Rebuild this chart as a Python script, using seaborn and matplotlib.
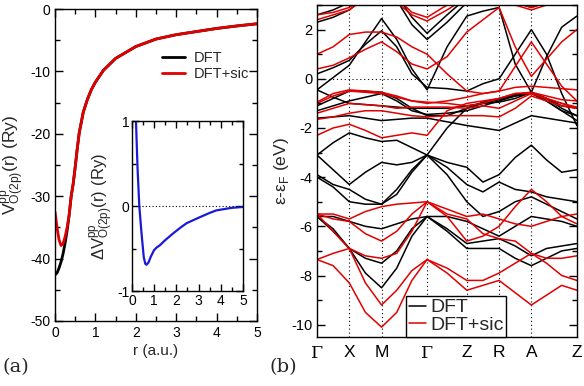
import pandas as pd
import seaborn as sns
import matplotlib
matplotlib.use("Agg")
import matplotlib.pyplot as plt
from matplotlib.lines import Line2D
from matplotlib.ticker import MultipleLocator

# ---------- panel (a): O(2p) pseudopotential ----------
r_main = [0.0, 0.05, 0.1, 0.15, 0.2, 0.25, 0.3, 0.35, 0.4, 0.45, 0.5, 0.55, 0.6,
          0.7, 0.8, 0.9, 1.0, 1.2, 1.5, 2.0, 2.5, 3.0, 3.5, 4.0, 4.5, 5.0]
v_dft = [-42.6, -42.3, -41.5, -40.5, -39.2, -37.5, -35.5, -33.0, -30.0, -28.0, -25.3,
         -22.4, -19.8, -16.5, -14.5, -12.9, -11.7, -9.8, -7.9, -6.0, -4.8, -4.1,
         -3.6, -3.1, -2.7, -2.35]
v_sic = [-32.5, -35.0, -37.0, -37.9, -37.6, -36.5, -35.0, -33.0, -30.0, -28.0, -25.3,
         -22.4, -19.8, -16.5, -14.5, -12.9, -11.7, -9.8, -7.9, -6.0, -4.8, -4.1,
         -3.6, -3.1, -2.7, -2.35]

r_inset = [0.12, 0.18, 0.25, 0.33, 0.43, 0.53, 0.6, 0.66, 0.75, 0.84, 0.99, 1.1,
           1.26, 1.5, 1.86, 2.2, 2.47, 3.06, 3.5, 3.8, 4.5, 5.0]
dv_inset = [1.6, 1.0, 0.45, 0.0, -0.32, -0.6, -0.68, -0.69, -0.66, -0.6, -0.52, -0.49,
            -0.46, -0.4, -0.32, -0.25, -0.2, -0.13, -0.08, -0.05, -0.02, -0.01]

# ---------- panel (b): band structure ----------
kpath_labels = ["Γ", "X", "M", "Γ", "Z", "R", "A", "Z"]
kpath_ticks = [0.0, 1.0, 2.0, 3.41, 4.64, 5.64, 6.64, 8.05]
k_points = [0.0, 0.5, 1.0, 1.5, 2.0, 2.47, 2.94, 3.41, 4.03, 4.64, 5.14, 5.64,
            6.14, 6.64, 7.11, 7.58, 8.05]

bands_dft = [
    [-5.6, -6.2, -6.9, -7.9, -8.5, -7.7, -6.4, -5.6, -6.2, -6.9, -6.9, -6.9, -7.3, -7.6, -7.3, -7.0, -6.9],
    [-5.6, -6.1, -6.9, -7.3, -7.5, -7.0, -6.1, -5.6, -6.1, -6.7, -6.6, -6.5, -6.8, -7.2, -6.9, -6.8, -6.7],
    [-5.6, -5.6, -5.8, -6.0, -6.1, -5.9, -5.7, -5.6, -5.6, -5.8, -6.1, -6.4, -6.0, -5.6, -5.7, -5.8, -6.0],
    [-4.0, -4.4, -5.0, -5.1, -5.1, -4.7, -3.8, -3.1, -3.9, -5.0, -5.6, -5.4, -5.0, -4.8, -5.1, -5.4, -5.7],
    [-3.9, -4.3, -4.5, -4.9, -5.1, -4.5, -3.7, -3.1, -3.6, -4.3, -4.6, -4.2, -4.5, -4.6, -4.8, -4.9, -5.0],
    [-3.1, -3.7, -4.3, -3.8, -3.4, -3.5, -3.4, -3.1, -3.4, -3.6, -4.2, -3.9, -3.2, -2.7, -3.3, -3.8, -3.7],
    [-3.1, -2.6, -2.2, -2.4, -2.55, -2.5, -2.8, -3.1, -2.0, -1.2, -1.0, -0.95, -0.8, -0.55, -0.9, -1.3, -1.5],
    [-1.6, -1.55, -1.5, -1.6, -1.7, -1.65, -1.6, -1.6, -1.75, -1.9, -2.0, -2.1, -1.8, -1.5, -1.6, -1.7, -1.8],
    [-1.3, -1.1, -0.9, -0.75, -0.6, -0.9, -1.3, -1.45, -1.4, -1.3, -1.1, -0.9, -0.7, -0.55, -0.8, -1.2, -1.5],
    [-1.1, -0.8, -0.5, -0.5, -0.55, -0.8, -1.2, -1.5, -1.5, -1.2, -0.95, -0.8, -0.65, -0.55, -0.8, -1.1, -1.2],
    [-0.45, -0.75, -1.0, -1.05, -1.1, -1.15, -1.2, -1.2, -1.2, -1.1, -1.0, -0.85, -0.7, -0.6, -0.9, -1.3, -1.7],
    [-0.45, 0.05, 0.55, 1.5, 2.45, 1.6, 0.4, -0.45, 1.3, 2.55, 2.75, 2.9, 0.6, -0.55, 0.9, 2.1, 2.55],
    [0.2, 0.45, 0.75, 1.4, 1.95, 1.3, 0.2, -0.35, -0.4, -0.5, -0.2, 0.0, 1.0, 2.0, 1.0, -0.6, -1.9],
    [2.3, 2.5, 2.8, 3.3, 3.8, 3.2, 2.2, 1.6, 2.3, 3.1, 3.3, 3.3, 3.1, 2.9, 3.1, 3.3, 3.5],
    [2.6, 2.8, 3.1, 3.5, 4.0, 3.4, 2.5, 1.85, 2.6, 3.3, 3.4, 3.4, 3.2, 3.0, 3.2, 3.4, 3.6],
]

bands_sic = [
    [-7.35, -7.6, -8.3, -9.5, -10.1, -9.5, -8.2, -7.35, -7.9, -8.6, -8.4, -8.2, -8.7, -9.2, -8.8, -8.4, -8.6],
    [-7.35, -7.1, -6.9, -8.3, -9.2, -8.6, -7.8, -7.35, -7.7, -8.2, -8.2, -7.9, -7.5, -7.1, -7.5, -8.0, -8.2],
    [-5.5, -6.2, -6.9, -7.2, -7.3, -7.1, -6.2, -5.0, -5.5, -5.7, -6.3, -6.5, -6.6, -7.1, -7.3, -7.3, -7.2],
    [-5.5, -5.7, -5.8, -6.3, -6.6, -6.2, -5.5, -5.0, -5.6, -6.6, -6.4, -6.0, -5.2, -4.5, -5.0, -5.6, -5.9],
    [-5.5, -5.5, -5.7, -5.4, -5.2, -5.1, -5.05, -5.0, -5.3, -5.6, -5.5, -5.7, -5.9, -6.0, -5.8, -5.6, -5.5],
    [-2.3, -2.0, -1.85, -2.1, -2.4, -2.3, -2.2, -2.3, -1.3, -1.0, -0.9, -0.8, -0.6, -0.6, -0.8, -1.0, -1.2],
    [-1.65, -1.55, -1.4, -1.3, -1.3, -1.4, -1.5, -1.55, -1.5, -1.5, -1.5, -1.55, -1.2, -0.7, -0.9, -1.1, -1.2],
    [-1.4, -1.2, -1.0, -1.05, -1.1, -1.2, -1.15, -1.15, -1.15, -1.2, -1.1, -1.2, -0.9, -0.6, -0.8, -1.0, -1.15],
    [-1.0, -0.7, -0.5, -0.55, -0.6, -0.75, -0.9, -0.95, -1.0, -1.1, -1.0, -0.8, -0.6, -0.55, -0.7, -0.85, -0.9],
    [-0.95, -0.6, -0.45, -0.5, -0.55, -0.7, -0.9, -1.0, -0.9, -0.75, -0.6, -0.5, -0.35, -0.3, -0.35, -0.4, -0.45],
    [0.4, 0.55, 0.85, 1.2, 1.5, 1.1, 0.6, 0.4, 0.9, 1.9, 2.4, 2.9, 1.3, 0.1, 0.8, 1.5, 2.0],
    [1.0, 1.3, 1.8, 1.9, 1.9, 1.7, 1.3, 1.0, 0.2, -0.5, -0.6, -0.5, 0.5, 1.5, 0.6, -0.3, -0.9],
    [2.4, 2.6, 2.8, 3.3, 3.6, 3.1, 2.6, 2.35, 2.8, 3.3, 3.3, 3.2, 3.0, 2.8, 3.0, 3.3, 3.5],
    [2.6, 2.7, 2.9, 3.4, 3.9, 3.3, 2.7, 2.5, 3.0, 3.5, 3.5, 3.4, 3.1, 2.9, 3.1, 3.4, 3.6],
]

RED = "#e00000"
palette = {"DFT": "black", "DFT+sic": RED}

sns.set_style("ticks")
plt.rcParams["font.family"] = ["Liberation Sans", "DejaVu Sans"]
plt.rcParams["axes.edgecolor"] = "black"
plt.rcParams["xtick.color"] = "black"
plt.rcParams["ytick.color"] = "black"
plt.rcParams["axes.unicode_minus"] = False


def style_ticks(ax, size=10):
    ax.tick_params(which="both", direction="in", top=True, right=True,
                   labelsize=size, width=1)
    ax.tick_params(which="major", length=6)
    ax.tick_params(which="minor", length=3.5)
    for s in ax.spines.values():
        s.set_linewidth(1.0)


fig = plt.figure(figsize=(5.84, 3.86), dpi=100)

# ---- (a) main ----
ax_a = fig.add_axes([0.0942, 0.1684, 0.346, 0.808])
df_a = pd.concat([
    pd.DataFrame({"r": r_main, "V": v_dft, "method": "DFT"}),
    pd.DataFrame({"r": r_main, "V": v_sic, "method": "DFT+sic"}),
])
sns.lineplot(data=df_a, x="r", y="V", hue="method", palette=palette,
             lw=2, legend=False, sort=False, ax=ax_a)
ax_a.set_xlim(0, 5)
ax_a.set_ylim(-50, 0)
ax_a.xaxis.set_major_locator(MultipleLocator(1))
ax_a.xaxis.set_minor_locator(MultipleLocator(0.5))
ax_a.yaxis.set_major_locator(MultipleLocator(10))
ax_a.yaxis.set_minor_locator(MultipleLocator(5))
style_ticks(ax_a)
ax_a.set_xlabel("r (a.u.)", fontsize=11, labelpad=3)
ax_a.set_ylabel(r"$\mathregular{V^{pp}_{O(2p)}(r)\ (Ry)}$", fontsize=12.5, labelpad=2)
ax_a.legend(handles=[Line2D([], [], color="black", lw=2),
                     Line2D([], [], color=RED, lw=2)],
            labels=["DFT", "DFT+sic"], frameon=False, fontsize=10.5,
            handlelength=1.6, handletextpad=0.6, labelspacing=0.15,
            loc="upper left", bbox_to_anchor=(0.5, 0.885), borderaxespad=0)

# ---- (a) inset ----
ax_in = fig.add_axes([0.226, 0.246, 0.190, 0.440])
df_in = pd.DataFrame({"r": r_inset, "dV": dv_inset})
sns.lineplot(data=df_in, x="r", y="dV", color="#1a1ad6", lw=1.6, sort=False, ax=ax_in)
ax_in.axhline(0, color="black", lw=0.8, ls=(0, (1, 2)))
ax_in.set_xlim(0, 5)
ax_in.set_ylim(-1, 1)
ax_in.xaxis.set_major_locator(MultipleLocator(1))
ax_in.xaxis.set_minor_locator(MultipleLocator(0.5))
ax_in.yaxis.set_major_locator(MultipleLocator(1))
ax_in.yaxis.set_minor_locator(MultipleLocator(0.5))
style_ticks(ax_in)
ax_in.tick_params(which="major", length=5, pad=2)
ax_in.tick_params(which="minor", length=3)
ax_in.set_xlabel("")
ax_in.set_ylabel(r"$\mathregular{\Delta V^{pp}_{O(2p)}(r)\ (Ry)}$", fontsize=12, labelpad=1)

# ---- (b) bands ----
ax_b = fig.add_axes([0.5428, 0.127, 0.445, 0.860])
rows = []
for i, band in enumerate(bands_dft):
    rows.append(pd.DataFrame({"k": k_points, "E": band, "band": f"d{i}", "method": "DFT"}))
for i, band in enumerate(bands_sic):
    rows.append(pd.DataFrame({"k": k_points, "E": band, "band": f"s{i}", "method": "DFT+sic"}))
df_b = pd.concat(rows, ignore_index=True)
sns.lineplot(data=df_b, x="k", y="E", hue="method", units="band", estimator=None,
             palette=palette, lw=1.1, legend=False, ax=ax_b)
for kx in kpath_ticks[1:-1]:
    ax_b.axvline(kx, color="black", lw=0.8, ls=(0, (1, 2.5)), zorder=0)
ax_b.axhline(0, color="black", lw=0.8, ls=(0, (1, 2.5)), zorder=0)
ax_b.set_xlim(kpath_ticks[0], kpath_ticks[-1])
ax_b.set_ylim(-10.5, 3.0)
ax_b.set_xticks(kpath_ticks)
ax_b.set_xticklabels(kpath_labels)
ax_b.yaxis.set_major_locator(MultipleLocator(2))
ax_b.yaxis.set_minor_locator(MultipleLocator(1))
style_ticks(ax_b, size=10.5)
ax_b.tick_params(axis="x", which="both", length=0, labelsize=12.5, pad=6, top=False)
for t in ax_b.get_xticklabels():
    if t.get_text() == "Γ":
        t.set_fontfamily("DejaVu Serif")
ax_b.set_xlabel("")
ax_b.set_ylabel("\u03b5-\u03b5$_\\mathregular{F}$ (eV)", fontsize=12.5, labelpad=0)
leg = ax_b.legend(handles=[Line2D([], [], color="black", lw=1.1),
                           Line2D([], [], color=RED, lw=1.1)],
                  labels=["DFT", "DFT+sic"], fontsize=14, loc="lower left",
                  bbox_to_anchor=(0.342, 0.0), borderaxespad=0, fancybox=False,
                  framealpha=1, edgecolor="black", handlelength=0.9,
                  handletextpad=0.2, labelspacing=0.0, borderpad=0.15)
leg.get_frame().set_linewidth(1.0)

fig.text(0.005, 0.035, "(a)", fontsize=14, fontfamily="DejaVu Serif")
fig.text(0.462, 0.035, "(b)", fontsize=14, fontfamily="DejaVu Serif")

fig.savefig("out.png", dpi=100)
